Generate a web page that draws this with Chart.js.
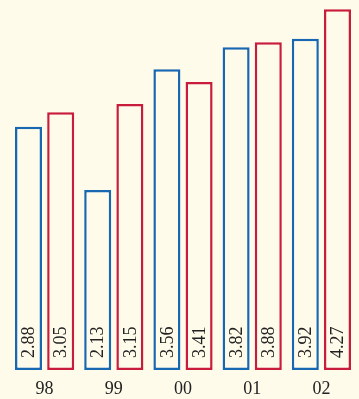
<!DOCTYPE html>
<html>
<head>
<meta charset="utf-8">
<script src="https://cdn.jsdelivr.net/npm/chart.js@4"></script>
<style>
  html, body { margin: 0; padding: 0; background: #fefbeb; }
  #wrap { width: 359px; height: 399px; position: relative; }
</style>
</head>
<body>
<div id="wrap"><canvas id="chart"></canvas></div>
<script>
// Years and the two series
const years = ['98', '99', '00', '01', '02'];
const blueValues = [2.88, 2.13, 3.56, 3.82, 3.92];
const redValues = [3.05, 3.15, 3.41, 3.88, 4.27];

const BLUE = '#1767b3';
const RED = '#c91c3c';
const BG = '#fefbeb';
const FONT = '"Liberation Serif", "DejaVu Serif", serif';

// Writes each bar's value upright (rotated) near the bottom of the bar
const valueLabels = {
    id: 'valueLabels',
    afterDatasetsDraw(chart) {
        const ctx = chart.ctx;
        ctx.save();
        ctx.font = '18px ' + FONT;
        ctx.fillStyle = '#222';
        ctx.textAlign = 'left';
        ctx.textBaseline = 'middle';
        chart.data.datasets.forEach((ds, i) => {
            chart.getDatasetMeta(i).data.forEach((bar, j) => {
                ctx.save();
                ctx.translate(bar.x + 1, bar.base - 12);
                ctx.rotate(-Math.PI / 2);
                ctx.fillText(ds.data[j].toFixed(2), 0, 0);
                ctx.restore();
            });
        });
        ctx.restore();
    }
};

new Chart(document.getElementById('chart'), {
    type: 'bar',
    data: {
        labels: years,
        datasets: [
            {
                data: blueValues,
                backgroundColor: BG,
                borderColor: BLUE,
                borderWidth: 2.5,
                borderSkipped: false
            },
            {
                data: redValues,
                backgroundColor: BG,
                borderColor: RED,
                borderWidth: 2.5,
                borderSkipped: false
            }
        ]
    },
    options: {
        responsive: true,
        maintainAspectRatio: false,
        animation: false,
        categoryPercentage: 0.93,
        barPercentage: 0.84,
        layout: { padding: { left: 10, right: 3, top: 0, bottom: 0 } },
        plugins: {
            legend: { display: false },
            tooltip: { enabled: false }
        },
        scales: {
            x: {
                grid: { display: false, drawTicks: false },
                border: { display: false },
                afterFit: (scale) => { scale.height = 29; },
                ticks: {
                    color: '#222',
                    padding: 8,
                    font: { family: FONT, size: 18 }
                }
            },
            y: {
                display: false,
                min: 0,
                max: 4.38
            }
        }
    },
    plugins: [valueLabels]
});
</script>
</body>
</html>
